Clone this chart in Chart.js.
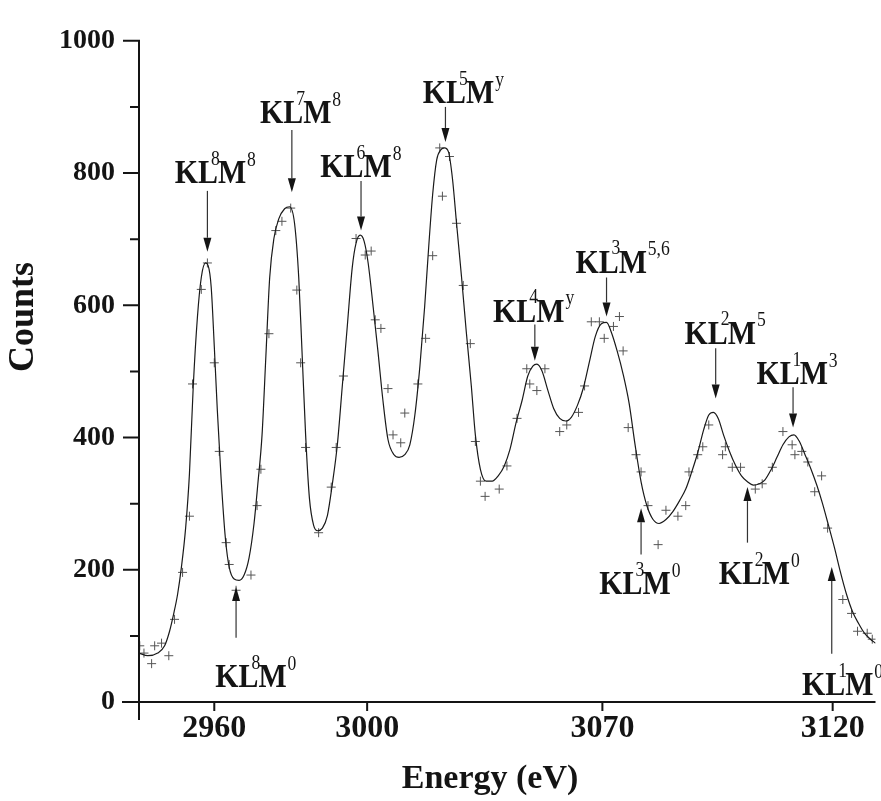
<!DOCTYPE html>
<html><head><meta charset="utf-8">
<script src="https://cdn.jsdelivr.net/npm/chart.js@4.4.1/dist/chart.umd.min.js"></script>
<style>html,body{margin:0;padding:0;background:#fff}canvas{display:block}</style>
</head><body>
<canvas id="c" width="881" height="801"></canvas>
<script>
// ---------- data ----------
const X_TICKS = [2960, 3000, 3070, 3120];
const Y_TICKS = [0, 200, 400, 600, 800, 1000];
const X_RANGE = [2940.3, 3129.3];
const Y_RANGE = [0, 1000];

// fitted curve
const CURVE_EV = [
2940.3,2942.6,2945.2,2947.0,2948.3,2949.4,2950.4,2951.4,2952.5,2953.5,
2954.5,2955.6,2956.6,2957.7,2958.4,2959.2,2960.0,2960.8,2961.8,2962.9,
2963.9,2965.2,2966.5,2967.8,2969.1,2970.4,2971.4,2972.5,2973.5,2974.5,
2975.6,2976.9,2978.4,2979.7,2981.0,2982.1,2982.9,2983.9,2984.9,2986.0,
2987.0,2988.3,2989.6,2990.9,2992.2,2993.5,2994.8,2996.1,2997.1,2998.2,
2999.2,3000.3,3001.8,3003.2,3004.7,3006.2,3008.0,3009.5,3011.2,3012.7,
3014.2,3015.7,3017.1,3018.3,3019.5,3020.7,3021.9,3023.0,3024.2,3025.4,
3026.6,3028.1,3029.5,3031.0,3032.2,3033.7,3035.4,3037.2,3039.0,3040.8,
3042.5,3044.3,3046.1,3047.8,3049.3,3050.5,3052.0,3053.8,3055.5,3057.3,
3059.1,3060.8,3062.6,3064.4,3066.2,3067.9,3069.7,3070.9,3071.9,3073.2,
3074.5,3075.8,3077.1,3078.4,3079.7,3081.0,3082.3,3083.8,3085.3,3086.8,
3088.1,3089.4,3090.7,3092.0,3093.1,3094.1,3095.2,3096.3,3097.6,3098.9,
3100.2,3101.5,3102.8,3104.1,3105.3,3106.6,3107.9,3109.2,3110.5,3111.6,
3112.7,3114.0,3115.3,3116.6,3117.8,3119.1,3120.4,3121.7,3123.0,3124.3,
3125.6,3126.9,3128.2,3129.3];
const CURVE_COUNTS = [
74,70,74,85,107,134,163,204,263,345,
478,583,642,664,660,627,538,441,337,248,
204,186,184,192,218,270,330,404,523,642,
701,731,746,749,724,642,538,404,308,267,
259,263,282,330,389,478,568,657,694,706,
697,664,597,531,456,397,374,370,374,389,
434,508,597,687,768,820,835,838,832,791,
724,642,560,478,404,352,334,334,342,357,
382,422,456,493,508,511,501,471,444,429,
425,431,449,476,516,553,572,574,560,531,
496,452,389,333,296,276,270,276,288,305,
322,348,377,412,434,438,428,404,379,358,
342,333,328,330,336,351,370,389,401,404,
395,374,352,327,300,267,233,196,163,137,
119,104,95,89];

// measured points (+)
const POINT_EV = [
2940.5,2941.6,2943.6,2944.4,2946.2,2948.1,2949.6,2951.7,2953.5,2954.3,
2956.6,2958.2,2960.0,2961.3,2963.1,2963.9,2965.7,2969.6,2971.2,2972.2,
2974.3,2976.1,2977.7,2980.0,2981.6,2982.6,2983.9,2987.3,2990.6,2991.9,
2993.8,2997.1,2999.5,3001.2,3002.4,3004.1,3006.2,3007.7,3010.0,3011.2,
3015.1,3017.4,3019.5,3021.6,3022.4,3024.5,3026.6,3028.6,3030.7,3032.2,
3033.7,3035.1,3039.3,3041.6,3044.6,3047.5,3048.4,3050.5,3052.9,3057.3,
3059.4,3062.9,3064.7,3066.7,3069.1,3070.4,3072.4,3073.7,3074.5,3075.6,
3077.3,3078.4,3079.9,3082.1,3083.8,3086.4,3088.1,3088.8,3090.7,3091.8,
3093.1,3096.1,3096.7,3098.2,3100.0,3103.2,3104.7,3106.9,3109.2,3111.2,
3111.8,3113.3,3114.6,3116.1,3117.6,3118.9,3122.2,3124.1,3125.4,3127.5,
3128.6];
const POINT_COUNTS = [
85,74,58,85,89,70,125,196,281,481,
624,664,513,379,241,208,169,192,297,352,
557,713,727,747,623,513,385,256,325,385,
493,701,676,682,578,565,474,404,392,437,
481,550,675,838,765,825,724,630,542,394,
334,311,322,357,429,504,481,471,504,409,
419,438,478,575,575,550,568,583,531,415,
374,348,297,238,290,281,297,348,374,386,
419,374,386,355,355,322,330,355,409,389,
374,379,363,318,342,263,155,134,107,104,
95];

// peak / valley annotations  (KL^a M^b)
const LABEL_SUP1 = ['8','7','6','5','4','3','3','2','1','2','1','8'];
const LABEL_SUP2 = ['8','8','8','y','y','5,6','0','5','3','0','0','0'];
const LABEL_EV     = [2959.0,2981.3,2997.1,3027.2,3048.1,3071.9,3077.1,3095.6,3111.2,3103.0,3121.1,2969.6];
const LABEL_COUNTS = [785,875,794,906,575,649,163,542,481,178,10,22];
const ARROW_EV     = [2958.2,2980.3,2998.4,3023.3,3049.9,3070.9,3078.4,3094.6,3111.4,3101.5,3119.8,2965.7];
const ARROW_FROM   = [773,865,788,900,571,642,223,535,476,241,73,97];
const ARROW_TO     = [681,771,713,847,516,583,293,459,415,325,204,174];

// The printed energy ticks are unevenly spaced on the original axis:
// relative distance between the printed tick marks.
const AXIS_KNOTS_EV  = [2960, 3000, 3070, 3120];
const AXIS_KNOTS_POS = [0, 154, 391, 623];

// ---------- segmented (piecewise-linear) scale ----------
function segIndex(arr, v) {
  if (v <= arr[1]) return 0;
  if (v >= arr[arr.length - 2]) return arr.length - 2;
  let i = 0; while (v > arr[i + 1]) i++; return i;
}
function segFwd(v) {
  const E = AXIS_KNOTS_EV, P = AXIS_KNOTS_POS, i = segIndex(E, v);
  return P[i] + (v - E[i]) * (P[i + 1] - P[i]) / (E[i + 1] - E[i]);
}
function segInv(u) {
  const E = AXIS_KNOTS_EV, P = AXIS_KNOTS_POS, i = segIndex(P, u);
  return E[i] + (u - P[i]) * (E[i + 1] - E[i]) / (P[i + 1] - P[i]);
}
class SegmentedScale extends Chart.LinearScale {
  getPixelForValue(value) {
    if (value === null || value === undefined || Number.isNaN(+value)) return NaN;
    const a = segFwd(this.min), b = segFwd(this.max);
    return this.getPixelForDecimal((segFwd(+value) - a) / (b - a));
  }
  getValueForPixel(pixel) {
    const a = segFwd(this.min), b = segFwd(this.max);
    return segInv(a + this.getDecimalForPixel(pixel) * (b - a));
  }
}
SegmentedScale.id = 'segmented';
SegmentedScale.defaults = Chart.LinearScale.defaults;
Chart.register(SegmentedScale);

// ---------- drawing helpers ----------
const SERIF = '"Liberation Serif", "Times New Roman", Times, serif';
const INK = '#141414';

const axesPlugin = {
  id: 'axesPlugin',
  afterDatasetsDraw(chart) {
    const ctx = chart.ctx, xs = chart.scales.x, ys = chart.scales.y;
    const ca = chart.chartArea;
    const x0 = ca.left, y0 = ys.getPixelForValue(0);
    ctx.save();
    ctx.strokeStyle = INK; ctx.lineWidth = 2; ctx.lineCap = 'butt';
    ctx.beginPath();
    ctx.moveTo(x0, ys.getPixelForValue(Y_RANGE[1]) - 1); ctx.lineTo(x0, y0 + 18);
    ctx.moveTo(x0 - 17, y0); ctx.lineTo(ca.right, y0);
    for (let v = Y_RANGE[0]; v <= Y_RANGE[1]; v += 100) {
      const p = ys.getPixelForValue(v);
      const len = Y_TICKS.includes(v) ? 16 : 9;
      ctx.moveTo(x0 - len, p); ctx.lineTo(x0, p);
    }
    X_TICKS.forEach(v => { const p = xs.getPixelForValue(v); ctx.moveTo(p, y0); ctx.lineTo(p, y0 + 9); });
    ctx.stroke();
    ctx.restore();
  },
  afterDraw(chart) {
    const ctx = chart.ctx, xs = chart.scales.x, ys = chart.scales.y, ca = chart.chartArea;
    ctx.save();
    ctx.fillStyle = INK;
    // axis titles
    ctx.font = 'bold 34px ' + SERIF;
    ctx.textAlign = 'center'; ctx.textBaseline = 'alphabetic';
    ctx.fillText('Energy (eV)', ca.left + 351, ca.bottom + 86);
    ctx.save();
    ctx.translate(33, 317); ctx.rotate(-Math.PI / 2);
    ctx.font = 'bold 36px ' + SERIF;
    ctx.fillText('Counts', 0, 0);
    ctx.restore();

    // arrows
    for (let i = 0; i < ARROW_EV.length; i++) {
      const ax = xs.getPixelForValue(ARROW_EV[i]);
      const ya = ys.getPixelForValue(ARROW_FROM[i]);
      const yb = ys.getPixelForValue(ARROW_TO[i]);
      const dir = yb > ya ? 1 : -1;
      const headLen = 14, headW = 4;
      ctx.strokeStyle = '#333'; ctx.lineWidth = 1.2;
      ctx.beginPath(); ctx.moveTo(ax, ya); ctx.lineTo(ax, yb - dir * headLen); ctx.stroke();
      ctx.fillStyle = INK;
      ctx.beginPath();
      ctx.moveTo(ax, yb); ctx.lineTo(ax - headW, yb - dir * headLen); ctx.lineTo(ax + headW, yb - dir * headLen);
      ctx.closePath(); ctx.fill();
    }

    // labels KL^a M^b (slightly condensed like the scanned original)
    const mainSize = 34, supSize = 20, sx = 0.88;
    for (let i = 0; i < LABEL_EV.length; i++) {
      const cx = xs.getPixelForValue(LABEL_EV[i]);
      const by = ys.getPixelForValue(LABEL_COUNTS[i]);
      ctx.save();
      ctx.translate(cx, by);
      ctx.scale(sx, 1);
      ctx.fillStyle = INK;
      ctx.font = 'bold ' + mainSize + 'px ' + SERIF;
      ctx.textBaseline = 'alphabetic';
      const wKL = ctx.measureText('KL').width, wKLM = ctx.measureText('KLM').width;
      const left = -wKLM / 2;
      ctx.textAlign = 'left';
      ctx.fillText('KLM', left, 0);
      const capTop = -mainSize * 0.66;
      ctx.font = supSize + 'px ' + SERIF;
      ctx.textAlign = 'right';
      ctx.fillText(LABEL_SUP1[i], left + wKL + 2, capTop + 4);
      ctx.textAlign = 'left';
      ctx.fillText(LABEL_SUP2[i], left + wKLM + 1, capTop + 5);
      ctx.restore();
    }
    ctx.restore();
  }
};

// ---------- chart ----------
new Chart(document.getElementById('c'), {
  type: 'line',
  data: {
    datasets: [
      {
        label: 'Fit',
        data: CURVE_EV.map((x, i) => ({ x, y: CURVE_COUNTS[i] })),
        borderColor: '#1a1a1a', borderWidth: 1.2, pointRadius: 0,
        cubicInterpolationMode: 'monotone', fill: false, order: 1
      },
      {
        label: 'Measured',
        data: POINT_EV.map((x, i) => ({ x, y: POINT_COUNTS[i] })),
        showLine: false, pointStyle: 'cross', pointRadius: 4.5,
        pointBorderColor: '#555', pointBorderWidth: 1, pointBackgroundColor: '#555', order: 2
      }
    ]
  },
  options: {
    responsive: false, animation: false, devicePixelRatio: 1,
    layout: { padding: { top: 29, right: 0, bottom: 0, left: 0 } },
    plugins: { legend: { display: false }, tooltip: { enabled: false } },
    scales: {
      x: {
        type: 'segmented', min: X_RANGE[0], max: X_RANGE[1],
        grid: { display: false, drawTicks: false }, border: { display: false },
        afterBuildTicks: s => { s.ticks = X_TICKS.map(v => ({ value: v })); },
        afterFit: s => { s.height = 99; },
        ticks: {
          autoSkip: false, maxRotation: 0, minRotation: 0, padding: 8, color: INK,
          font: { family: SERIF, size: 32, weight: 'bold' },
          callback: v => String(v)
        }
      },
      y: {
        type: 'linear', min: Y_RANGE[0], max: Y_RANGE[1],
        grid: { display: false, drawTicks: false }, border: { display: false },
        afterBuildTicks: s => { s.ticks = Y_TICKS.map(v => ({ value: v })); },
        afterFit: s => { s.width = 139; },
        ticks: {
          padding: 24, color: INK,
          font: { family: SERIF, size: 28, weight: 'bold' },
          callback: v => String(v)
        }
      }
    }
  },
  plugins: [axesPlugin]
});
</script>
</body></html>
